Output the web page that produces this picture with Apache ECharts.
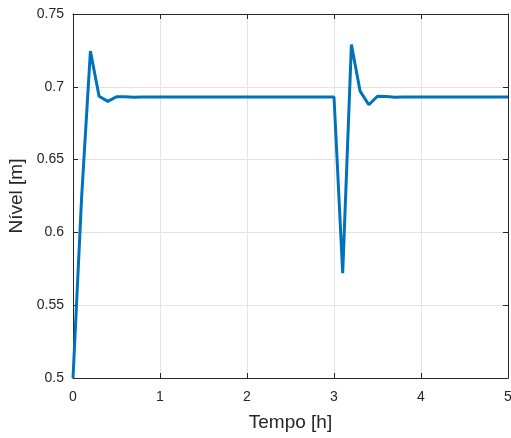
<!DOCTYPE html>
<html>
<head>
<meta charset="utf-8">
<script src="https://cdn.jsdelivr.net/npm/echarts@6/dist/echarts.min.js"></script>
<style>
  html, body { margin: 0; padding: 0; background: #fff; }
  #chart { width: 511px; height: 438px; }
</style>
</head>
<body>
<div id="chart"></div>
<script>
// tempo [h]
const tempo = [
  0.0, 0.1, 0.2, 0.3, 0.4, 0.5, 0.6, 0.7, 0.8, 0.9,
  1.0, 1.1, 1.2, 1.3, 1.4, 1.5, 1.6, 1.7, 1.8, 1.9,
  2.0, 2.1, 2.2, 2.3, 2.4, 2.5, 2.6, 2.7, 2.8, 2.9,
  3.0, 3.1, 3.2, 3.3, 3.4, 3.5, 3.6, 3.7, 3.8, 3.9,
  4.0, 4.1, 4.2, 4.3, 4.4, 4.5, 4.6, 4.7, 4.8, 4.9,
  5.0
];
// nivel [m]
const nivel = [
  0.5, 0.625, 0.7245, 0.6935, 0.69, 0.6932, 0.6932, 0.6929, 0.693, 0.693,
  0.693, 0.693, 0.693, 0.693, 0.693, 0.693, 0.693, 0.693, 0.693, 0.693,
  0.693, 0.693, 0.693, 0.693, 0.693, 0.693, 0.693, 0.693, 0.693, 0.693,
  0.693, 0.572, 0.729, 0.697, 0.6877, 0.6935, 0.6934, 0.6928, 0.693, 0.693,
  0.693, 0.693, 0.693, 0.693, 0.693, 0.693, 0.693, 0.693, 0.693, 0.693,
  0.693
];
const xTicks = ['0', '1', '2', '3', '4', '5'];
const yTicks = ['0.5', '0.55', '0.6', '0.65', '0.7', '0.75'];

const font = 'Liberation Sans, Arial, sans-serif';
const axisColor = '#262626';
const gridColor = '#e3e3e3';

const points = tempo.map((t, i) => [t, nivel[i]]);

const chart = echarts.init(document.getElementById('chart'));
chart.setOption({
  animation: false,
  grid: { left: 73, right: 3, top: 14, bottom: 60, containLabel: false, outerBoundsMode: 'none' },
  xAxis: [{
    type: 'value', min: 0, max: 5, interval: 1,
    name: 'Tempo [h]', nameLocation: 'middle', nameGap: 35,
    nameTextStyle: { fontFamily: font, fontSize: 19, color: axisColor },
    axisLine: { show: true, onZero: false, lineStyle: { color: axisColor, width: 1 } },
    axisTick: { show: true, inside: true, length: 5, lineStyle: { color: axisColor } },
    axisLabel: {
      fontFamily: font, fontSize: 14, color: axisColor, margin: 12,
      formatter: v => xTicks[Math.round(v)]
    },
    splitLine: { show: true, lineStyle: { color: gridColor, width: 1 } }
  }, {
    type: 'value', min: 0, max: 5, interval: 1, position: 'top',
    axisLine: { show: true, onZero: false, lineStyle: { color: axisColor, width: 1 } },
    axisTick: { show: true, inside: true, length: 5, lineStyle: { color: axisColor } },
    axisLabel: { show: false },
    splitLine: { show: false }
  }],
  yAxis: [{
    type: 'value', min: 0.5, max: 0.75, interval: 0.05,
    name: 'Nível [m]', nameLocation: 'middle', nameGap: 46,
    nameTextStyle: { fontFamily: font, fontSize: 19, color: axisColor },
    axisLine: { show: true, onZero: false, lineStyle: { color: axisColor, width: 1 } },
    axisTick: { show: true, inside: true, length: 5, lineStyle: { color: axisColor } },
    axisLabel: {
      fontFamily: font, fontSize: 14, color: axisColor, margin: 9,
      formatter: v => yTicks[Math.round((v - 0.5) / 0.05)]
    },
    splitLine: { show: true, lineStyle: { color: gridColor, width: 1 } }
  }, {
    type: 'value', min: 0.5, max: 0.75, interval: 0.05, position: 'right',
    axisLine: { show: true, onZero: false, lineStyle: { color: axisColor, width: 1 } },
    axisTick: { show: true, inside: true, length: 5, lineStyle: { color: axisColor } },
    axisLabel: { show: false },
    splitLine: { show: false }
  }],
  series: [{
    type: 'line',
    data: points,
    showSymbol: false,
    symbol: 'none',
    clip: true,
    lineStyle: { color: '#0072BD', width: 3 }
  }]
});
</script>
</body>
</html>
